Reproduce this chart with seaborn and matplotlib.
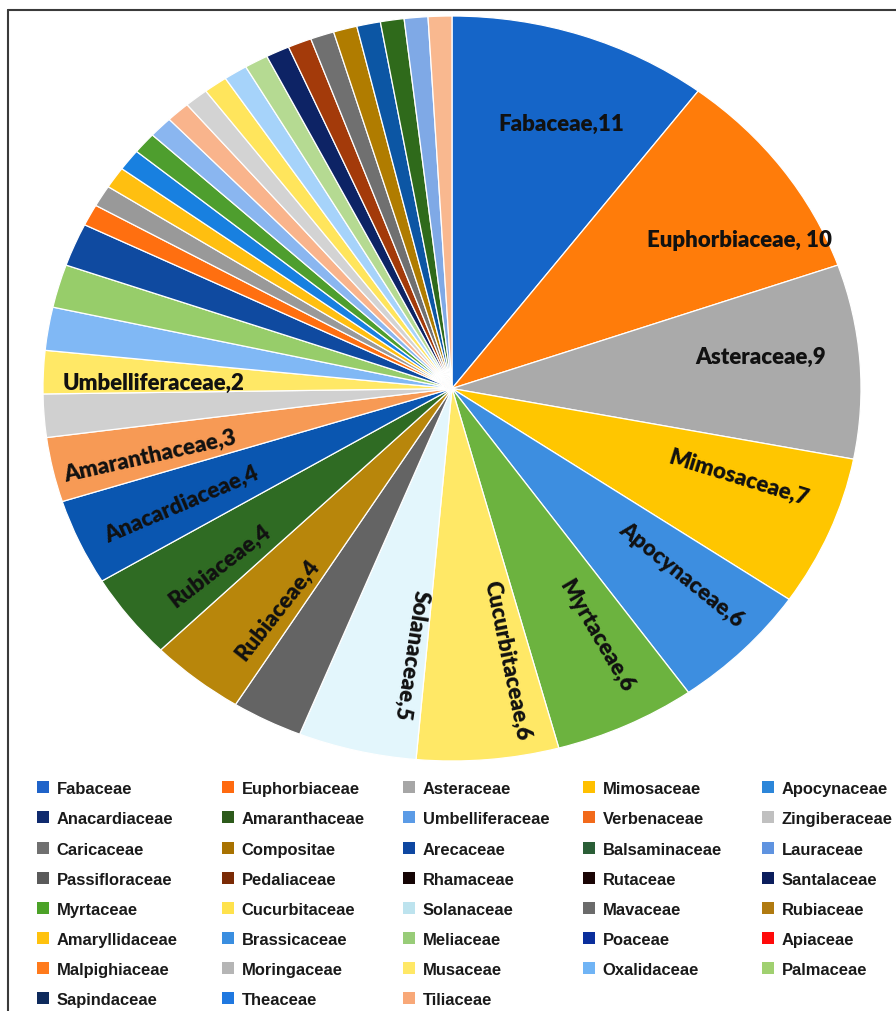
import numpy as np
import matplotlib
matplotlib.use("Agg")
import matplotlib.pyplot as plt
from matplotlib.patches import Rectangle
from matplotlib.lines import Line2D
import seaborn as sns

# ---------------- data ----------------
slice_labels = [
    "Fabaceae,11", "Euphorbiaceae, 10", "Asteraceae,9", "Mimosaceae,7",
    "Apocynaceae,6", "Myrtaceae,6", "Cucurbitaceae,6", "Solanaceae,5", "",
    "Rubiaceae,4", "Rubiaceae,4", "Anacardiaceae,4", "Amaranthaceae,3", "",
    "Umbelliferaceae,2", "", "", "",
    "", "", "", "", "", "", "", "", "", "", "", "", "", "", "", "", "", "", "",
]
slice_values = [11, 10, 9, 7, 6, 6, 6, 5, 3, 4, 4, 4, 3, 2, 2, 2, 2, 2,
                1, 1, 1, 1, 1, 1, 1, 1, 1, 1, 1, 1, 1, 1, 1, 1, 1, 1, 1]
slice_colors = [
    "#1565C8", "#FF7C0A", "#AAAAAA", "#FFC600", "#3D8EE0", "#6CB33F",
    "#FFE866", "#E3F6FC", "#646464", "#B8860B", "#2F6B23", "#0A56B0",
    "#F79A55", "#D0D0D0", "#FFE866", "#80B8F5", "#97CD6A", "#0F4AA0",
    "#FF6F10", "#999999", "#FFBF10", "#1880E0", "#4E9E2E", "#8AB6F0",
    "#F9B48C", "#D3D3D3", "#FFE55C", "#A6D3FA", "#B5DA92", "#0D2365",
    "#A33A0A", "#707070", "#B07C00", "#0C56A4", "#2F6A1B", "#7FA9E6",
    "#F9B88F",
]

legend_names = [
    "Fabaceae", "Euphorbiaceae", "Asteraceae", "Mimosaceae", "Apocynaceae",
    "Anacardiaceae", "Amaranthaceae", "Umbelliferaceae", "Verbenaceae", "Zingiberaceae",
    "Caricaceae", "Compositae", "Arecaceae", "Balsaminaceae", "Lauraceae",
    "Passifloraceae", "Pedaliaceae", "Rhamaceae", "Rutaceae", "Santalaceae",
    "Myrtaceae", "Cucurbitaceae", "Solanaceae", "Mavaceae", "Rubiaceae",
    "Amaryllidaceae", "Brassicaceae", "Meliaceae", "Poaceae", "Apiaceae",
    "Malpighiaceae", "Moringaceae", "Musaceae", "Oxalidaceae", "Palmaceae",
    "Sapindaceae", "Theaceae", "Tiliaceae",
]
legend_colors = [
    "#1F63C9", "#FF6A0F", "#A6A6A6", "#FFC000", "#2C86D9",
    "#0F2A6E", "#2D5A1B", "#5B9BE6", "#F26A1B", "#C0C0C0",
    "#707070", "#A87200", "#0E47A1", "#2A5E36", "#5F93E0",
    "#5A5A5A", "#7A2A05", "#150505", "#1A0505", "#0B1D5C",
    "#4CA228", "#FFE24C", "#BDE3EE", "#6B6B6B", "#B07A10",
    "#FFC20E", "#3A8EE0", "#98CC78", "#0A2E9C", "#FF0A0A",
    "#FF7A1C", "#B5B5B5", "#FFE866", "#70B4F5", "#A0D070",
    "#0E2A5C", "#1F78E0", "#F8A878",
]

# ---------------- style ----------------
sns.set_theme(style="white")
plt.rcParams["font.family"] = ["Liberation Sans", "DejaVu Sans"]

W, H = 896, 1012
fig = plt.figure(figsize=(W / 100, H / 100), dpi=100)
fig.patch.set_facecolor("white")

# pie area (pixels)
px_left, px_right, px_top, px_bottom = 43, 861, 17, 762
ax = fig.add_axes([px_left / W, 1 - px_bottom / H,
                   (px_right - px_left) / W, (px_bottom - px_top) / H])
wedges, _ = ax.pie(slice_values, colors=sns.color_palette(slice_colors),
                   startangle=90, counterclock=False,
                   wedgeprops=dict(edgecolor="white", linewidth=0.9))
ax.set_aspect("auto")
ax.set_xlim(-1, 1)
ax.set_ylim(-1, 1)
ax.axis("off")

rx = (px_right - px_left) / 2
ry = (px_bottom - px_top) / 2
flat = {0, 1, 2, 14}
# label placement tweaks: (angular nudge in degrees clockwise, radius)
label_adjust = {0: (2.0, 0.76), 1: (6.5, 0.81), 2: (-2.4, 0.76), 3: (-4.0, 0.74),
                4: (-3.0, 0.75), 5: (-2.9, 0.75), 6: (-5.5, 0.74), 7: (-5.5, 0.72),
                9: (-3.0, 0.73), 10: (-2.2, 0.74), 11: (-0.6, 0.73), 12: (-1.1, 0.76),
                14: (-1.3, 0.73)}
for i, (w, lab) in enumerate(zip(wedges, slice_labels)):
    if not lab:
        continue
    dang, rad = label_adjust.get(i, (0.0, 0.745))
    mid = np.deg2rad((w.theta1 + w.theta2) / 2 - dang)
    x, y = rad * np.cos(mid), rad * np.sin(mid)
    if i in flat:
        rot = 0
    else:
        rot = np.degrees(np.arctan2(np.sin(mid) * ry, np.cos(mid) * rx))
        if rot < -115:
            rot += 180
        elif rot > 90:
            rot -= 180
    ax.text(x, y, lab, rotation=rot, rotation_mode="anchor", ha="center",
            va="center", fontsize=16, fontweight="heavy", color="#111111",
            family=["Lato", "DejaVu Sans"])

# legend: built in pixel space on an overlay axes, row-major like the reference
lax = fig.add_axes([0, 0, 1, 1])
lax.set_xlim(0, W)
lax.set_ylim(H, 0)
lax.axis("off")
ncol = 5
col_x = [37, 222, 403, 583, 762]
row_y0, row_dy = 788.3, 30.15
for k, (name, col) in enumerate(zip(legend_names, legend_colors)):
    r, c = divmod(k, ncol)
    yc = row_y0 + r * row_dy
    lax.add_patch(Rectangle((col_x[c], yc - 6), 12, 12, facecolor=col,
                            edgecolor="none"))
    lax.text(col_x[c] + 19.5, yc, name, ha="left", va="center_baseline",
             fontsize=11.9, fontweight="bold", color="#1a1a1a",
             family="Liberation Sans")

# frame lines (top and left)
fig.add_artist(Line2D([8 / W, 1.0], [1 - 11 / H, 1 - 11 / H],
                      transform=fig.transFigure, color="#3a3a3a", lw=1.5))
fig.add_artist(Line2D([8 / W, 8 / W], [1 - 11 / H, 0],
                      transform=fig.transFigure, color="#3a3a3a", lw=1.5))

fig.savefig("out.png", dpi=100, facecolor="white")
